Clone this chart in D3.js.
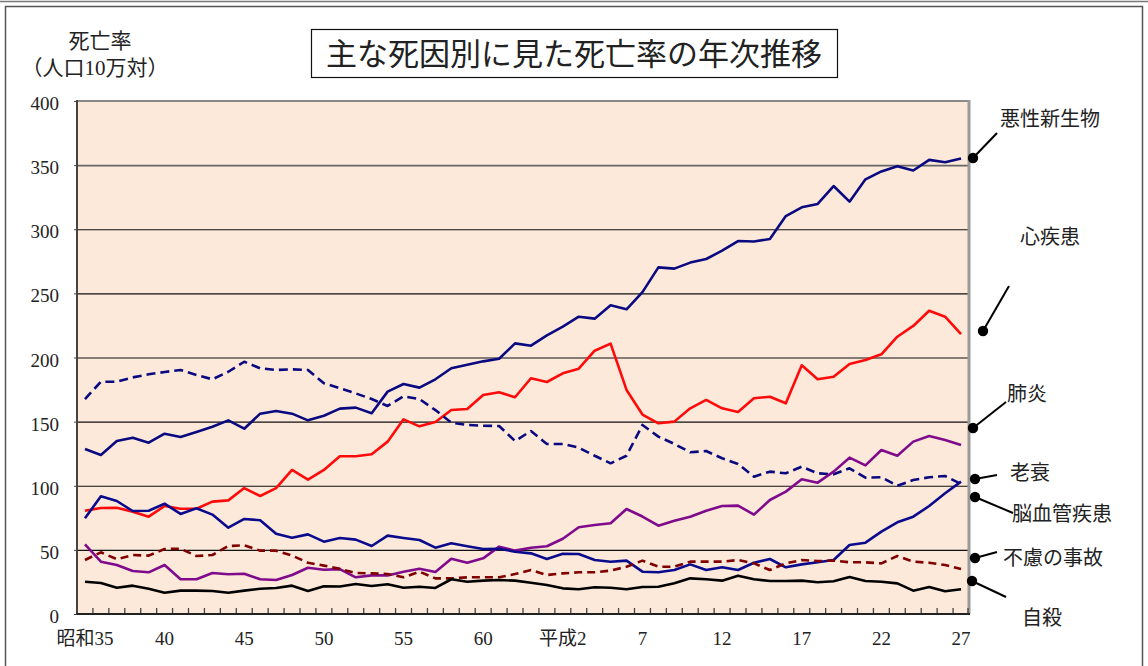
<!DOCTYPE html>
<html>
<head>
<meta charset="utf-8">
<script src="https://cdn.jsdelivr.net/npm/d3@7"></script>
<style>
  body { margin: 0; background: #fff; }
</style>
</head>
<body>
<div class="chart"></div>
<script>
// 年次 (昭和35 ～ 平成27)
const years = ['S35','S36','S37','S38','S39','S40','S41','S42','S43','S44','S45','S46','S47','S48','S49',
  'S50','S51','S52','S53','S54','S55','S56','S57','S58','S59','S60','S61','S62','S63','H1',
  'H2','H3','H4','H5','H6','H7','H8','H9','H10','H11','H12','H13','H14','H15','H16',
  'H17','H18','H19','H20','H21','H22','H23','H24','H25','H26','H27'];
const tickLabels = {S35:'昭和35', S40:'40', S45:'45', S50:'50', S55:'55', S60:'60',
  H2:'平成2', H7:'7', H12:'12', H17:'17', H22:'22', H27:'27'};
const yTicks = [0,50,100,150,200,250,300,350,400];

const cancer = [128.7,124.0,134.9,137.5,133.6,140.6,138.0,141.9,146.0,151.0,144.5,156.2,158.3,156.2,151.0,
  154.6,160.1,160.9,156.5,173.4,179.3,176.5,183.0,191.6,194.4,197.0,199.0,211.0,209.2,217.3,
  224.0,231.8,230.3,240.7,237.6,251.0,270.3,269.3,274.0,276.8,283.3,290.8,290.5,292.4,310.3,
  317.1,319.7,333.7,321.5,338.9,345.1,349.2,345.8,354.1,352.3,355.2];
const heart = [80.5,82.7,82.9,79.8,75.9,84.2,82.1,82.1,87.6,88.6,98.2,92.0,98.2,112.3,104.7,
  112.3,123.0,123.0,124.5,134.4,151.8,146.3,149.7,159.1,159.8,170.8,172.9,169.0,183.8,180.9,
  187.7,191.3,205.3,210.8,174.7,155.5,148.7,150.0,160.4,166.9,160.4,157.5,168.2,169.4,164.3,
  193.9,183.0,185.0,194.9,198.0,202.5,216.2,224.6,236.5,231.8,218.3];
const cerebro = [167.6,181.1,181.1,184.5,186.9,188.7,190.3,186.4,183.0,188.9,196.7,191.6,190.3,190.8,190.3,
  179.9,176.0,172.0,167.6,162.2,169.7,167.6,159.0,149.2,147.4,146.8,146.6,134.9,142.7,132.6,
  132.6,129.7,123.4,117.5,123.4,147.4,138.3,132.6,126.1,127.1,121.4,117.0,107.1,111.0,109.7,
  114.9,109.7,108.9,113.6,106.3,106.6,100.0,104.5,106.6,107.6,101.4];
const pneumonia = [54.3,40.8,38.2,33.5,32.5,38.2,27.1,27.1,32.0,31.0,31.4,27.1,26.5,30.4,36.1,
  34.5,35.0,28.6,30.1,30.1,33.0,35.3,32.7,43.1,40.0,43.4,52.5,49.4,51.7,52.8,
  58.7,67.6,69.4,70.7,81.9,76.0,68.9,72.7,75.9,80.5,84.2,84.5,77.5,88.9,95.4,
  105.0,102.4,111.0,121.9,115.9,127.9,123.4,134.4,138.8,135.7,131.8];
const senility = [74.6,91.8,88.1,80.3,80.5,86.0,78.0,82.4,77.5,67.3,74.1,73.1,62.6,59.5,62.1,
  56.4,59.2,58.0,53.0,61.1,59.3,57.7,51.7,55.1,52.8,50.7,50.9,48.6,47.3,42.9,
  47.0,46.8,42.1,40.8,41.6,33.0,32.5,34.3,38.7,34.3,36.4,34.3,40.0,42.9,36.4,
  38.7,40.3,42.1,53.8,55.6,64.2,71.5,75.9,84.2,94.1,103.2];
const accident = [42.1,48.1,42.7,46.0,45.5,50.7,50.9,45.2,46.0,53.0,53.6,49.4,49.4,45.5,40.0,
  37.7,35.2,32.0,31.7,31.2,28.6,33.0,27.8,27.8,28.6,28.6,28.6,31.2,34.3,30.4,
  31.7,32.5,32.5,33.8,36.9,41.6,36.9,36.9,40.8,40.8,40.8,42.1,39.5,34.3,39.5,
  42.1,41.3,41.6,40.3,40.3,39.5,45.2,40.8,40.0,38.2,35.1];
const suicide = [25.2,24.2,20.5,22.1,19.7,16.6,18.2,18.2,17.9,16.6,18.2,19.7,20.3,22.1,17.9,
  21.6,21.5,23.4,21.8,23.2,20.5,21.3,20.3,27.1,25.2,26.0,26.5,26.0,24.4,22.6,
  20.0,19.3,20.8,20.5,19.3,21.0,21.3,23.9,27.8,27.1,26.0,29.9,27.1,25.7,25.7,
  26.0,24.7,25.5,28.9,25.7,25.2,23.9,18.2,21.1,17.7,19.3];

const series = [
  {name:'悪性新生物', values:cancer, color:'#0a0a80', dash:null},
  {name:'心疾患', values:heart, color:'#ff0a0a', dash:null},
  {name:'脳血管疾患', values:cerebro, color:'#0a0a80', dash:'9,5'},
  {name:'肺炎', values:pneumonia, color:'#800a8c', dash:null},
  {name:'老衰', values:senility, color:'#0a0a8c', dash:null},
  {name:'不慮の事故', values:accident, color:'#800000', dash:'8,5'},
  {name:'自殺', values:suicide, color:'#000000', dash:null}
];

// 右側の凡例 (点の位置, 線の先, 文字の位置)
const notes = [
  {label:'悪性新生物', dot:[973,158], end:[997,133], text:[1000,119]},
  {label:'心疾患', dot:[983,331], end:[1009,286], text:[1020,237]},
  {label:'肺炎', dot:[973,428], end:[1006,402], text:[1007,394]},
  {label:'老衰', dot:[975,479], end:[997,475], text:[1010,473]},
  {label:'脳血管疾患', dot:[975,497], end:[1013,513], text:[1012,514]},
  {label:'不慮の事故', dot:[975,558], end:[997,552], text:[1003,558]},
  {label:'自殺', dot:[972,581], end:[1006,597], text:[1022,618]}
];

const font = "'Liberation Serif', 'DejaVu Serif', 'Noto Sans CJK JP', serif";
const width = 1148, height = 666;
const pLeft = 77, pRight = 969, pTop = 101, pBottom = 614;

const svg = d3.select('.chart').append('svg')
  .attr('width', width)
  .attr('height', height)
  .attr('font-family', font);

// 外枠
svg.append('line').attr('x1',0).attr('x2',width).attr('y1',1.5).attr('y2',1.5)
  .attr('stroke','#777').attr('stroke-width',1.5);
svg.append('rect').attr('x',5.5).attr('y',6.5).attr('width',1137).attr('height',700)
  .attr('fill','none').attr('stroke','#555').attr('stroke-width',1.5);

const x = d3.scaleBand().domain(years).range([pLeft, pRight]).padding(0);
const y = d3.scaleLinear().domain([0, 400]).range([pBottom, pTop]);

svg.append('rect')
  .attr('x', pLeft).attr('y', pTop)
  .attr('width', pRight - pLeft).attr('height', pBottom - pTop)
  .attr('fill', '#fde9da');

// 目盛線
svg.selectAll('.grid')
  .data(yTicks.filter(d => d > 0 && d < 400))
  .enter()
  .append('line')
  .attr('x1', pLeft).attr('x2', pRight)
  .attr('y1', d => y(d) + 0.5).attr('y2', d => y(d) + 0.5)
  .attr('stroke', d => d == 350 ? '#666' : '#111')
  .attr('stroke-width', d => d == 350 ? 1.6 : 1.1);

const line = d3.line()
  .x((d, i) => x(years[i]) + x.bandwidth() / 2)
  .y(d => y(d));

svg.selectAll('.series')
  .data(series)
  .enter()
  .append('path')
  .attr('d', d => line(d.values))
  .attr('fill', 'none')
  .attr('stroke', d => d.color)
  .attr('stroke-width', 2.6)
  .attr('stroke-dasharray', d => d.dash)
  .attr('stroke-linejoin', 'round');

// 枠
svg.append('line').attr('x1',pLeft).attr('x2',pRight).attr('y1',pTop).attr('y2',pTop)
  .attr('stroke','#8a8a8a').attr('stroke-width',2);
svg.append('line').attr('x1',pRight).attr('x2',pRight).attr('y1',pTop - 1).attr('y2',pBottom)
  .attr('stroke','#9a9a9a').attr('stroke-width',3);
svg.append('line').attr('x1',pLeft).attr('x2',pLeft).attr('y1',pTop - 1).attr('y2',pBottom + 1)
  .attr('stroke','#444').attr('stroke-width',2);

// 下の目盛り
svg.selectAll('.xtick')
  .data(years.slice(1).concat(['end']))
  .enter()
  .append('line')
  .attr('x1', d => d == 'end' ? pRight - 1 : x(d))
  .attr('x2', d => d == 'end' ? pRight - 1 : x(d))
  .attr('y1', pBottom - 6).attr('y2', pBottom)
  .attr('stroke', '#444').attr('stroke-width', 1.3);

svg.append('line').attr('x1',pLeft - 1).attr('x2',pRight + 1).attr('y1',pBottom).attr('y2',pBottom)
  .attr('stroke','#222').attr('stroke-width',2);

// 軸ラベル
const xAxis = svg.append('g')
  .attr('transform', `translate(0,${pBottom})`)
  .call(d3.axisBottom(x)
    .tickValues(Object.keys(tickLabels))
    .tickFormat(d => tickLabels[d])
    .tickSize(0)
    .tickPadding(18))
  .attr('font-family', font)
  .attr('font-size', 19);
xAxis.select('.domain').remove();
xAxis.selectAll('text').attr('fill', '#222');

const yAxis = svg.append('g')
  .attr('transform', `translate(${pLeft},0)`)
  .call(d3.axisLeft(y).tickValues(yTicks).tickSize(3).tickPadding(15))
  .attr('font-family', font)
  .attr('font-size', 19);
yAxis.select('.domain').remove();
yAxis.selectAll('line').attr('stroke', '#444');
yAxis.selectAll('text').attr('dy', '0.45em').attr('fill', '#222');

svg.append('text').attr('x', 100).attr('y', 48).attr('text-anchor', 'middle')
  .attr('font-size', 21).attr('fill', '#222').text('死亡率');
svg.append('text').attr('x', 95).attr('y', 75).attr('text-anchor', 'middle')
  .attr('font-size', 21).attr('fill', '#222').text('（人口10万対）');

// タイトル
svg.append('rect').attr('x', 311.5).attr('y', 29.5).attr('width', 526).attr('height', 48)
  .attr('fill', '#fff').attr('stroke', '#111').attr('stroke-width', 1.2);
svg.append('text').attr('x', 574).attr('y', 54).attr('text-anchor', 'middle')
  .attr('dominant-baseline', 'central')
  .attr('fill', '#222')
  .attr('font-size', 31).text('主な死因別に見た死亡率の年次推移');

// 凡例
const g = svg.selectAll('.note').data(notes).enter().append('g');
g.append('line')
  .attr('x1', d => d.dot[0]).attr('y1', d => d.dot[1])
  .attr('x2', d => d.end[0]).attr('y2', d => d.end[1])
  .attr('stroke', '#000').attr('stroke-width', 2);
g.append('circle')
  .attr('cx', d => d.dot[0]).attr('cy', d => d.dot[1]).attr('r', 5.2)
  .attr('fill', '#000');
g.append('text')
  .attr('x', d => d.text[0]).attr('y', d => d.text[1])
  .attr('dominant-baseline', 'central')
  .attr('fill', '#222')
  .attr('font-size', 20)
  .text(d => d.label);
</script>
</body>
</html>
